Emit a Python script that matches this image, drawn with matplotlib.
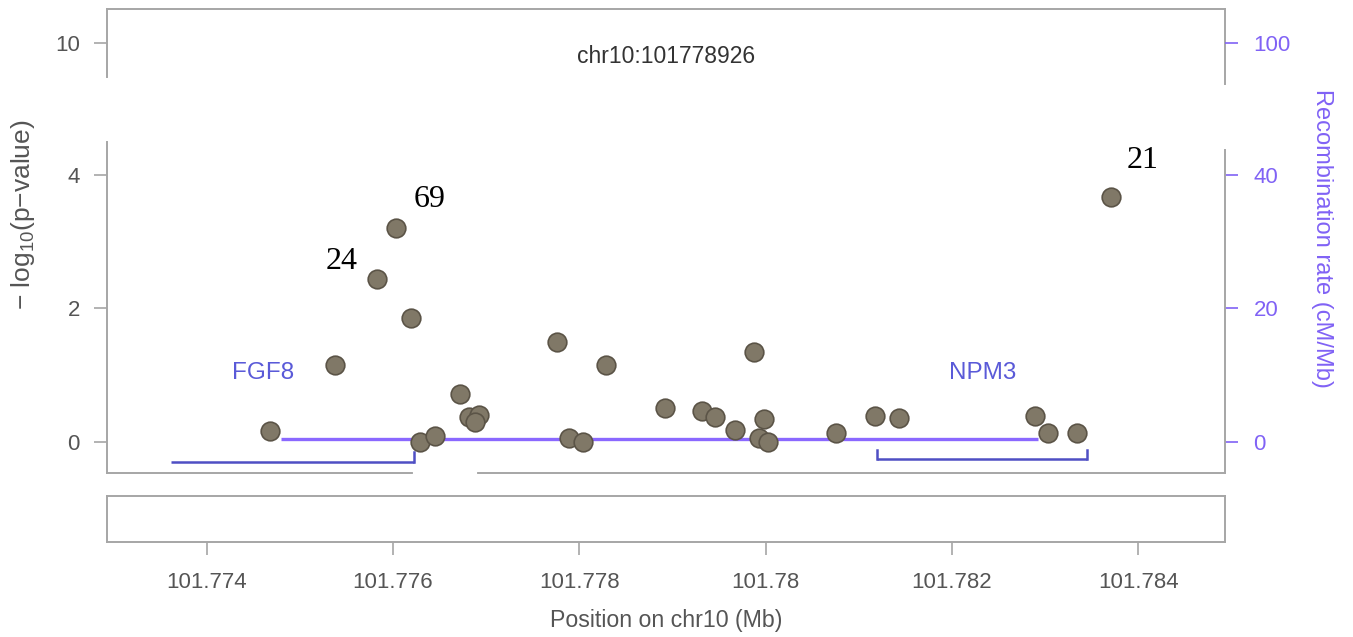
import matplotlib
matplotlib.use('Agg')
import matplotlib.pyplot as plt
import numpy as np

plt.rcParams['font.family'] = ['Liberation Sans', 'DejaVu Sans']
plt.rcParams['mathtext.fontset'] = 'custom'
plt.rcParams['mathtext.rm'] = 'Liberation Sans'
plt.rcParams['mathtext.it'] = 'Liberation Sans:italic'

# ---------------- data ----------------
position_mb = [101.77468, 101.77538, 101.77583, 101.77603, 101.77619, 101.77629,
               101.77645, 101.77672, 101.77682, 101.77692, 101.77688,
               101.77776, 101.77789, 101.77804, 101.77829, 101.77892, 101.77932,
               101.77946, 101.77967, 101.77987, 101.77998, 101.77993, 101.78003,
               101.78076, 101.78117, 101.78143,
               101.78289, 101.78303, 101.78334, 101.78371]
neg_log10_p = [0.165, 1.15, 2.44, 3.20, 1.85, 0.0,
               0.09, 0.71, 0.375, 0.396, 0.295,
               1.49, 0.05, 0.0, 1.146, 0.51, 0.465,
               0.366, 0.175, 1.35, 0.34, 0.06, 0.0,
               0.135, 0.385, 0.351,
               0.39, 0.135, 0.135, 3.666]

label_index = [2, 3, 29]
label_text = ['24', '69', '21']

recomb_pos = [101.77480, 101.78292]
recomb_rate = [0.4, 0.4]

gene_names = ['FGF8', 'NPM3']
gene_start = [101.77362, 101.78119]
gene_end = [101.77623, 101.78345]
gene_label_x = [101.7746, 101.78233]

lead_snp = 'chr10:101778926'
lead_pos = 101.778926

x_ticks = [101.774, 101.776, 101.778, 101.780, 101.782, 101.784]
x_tick_labels = ['101.774', '101.776', '101.778', '101.78', '101.782', '101.784']
p_ticks_main = [0, 2, 4]
p_ticks_top = [10]
rate_ticks_main = [0, 20, 40]
rate_ticks_top = [100]

# ---------------- style ----------------
W, H = 1353, 637
GRAY_TXT = '#555555'
SPINE = '#a6a6a6'
PURPLE = '#8062f5'
RLINE = '#8a68ff'
GENE_C = '#4f4fc4'
GENE_T = '#5a5ad8'
PT_FACE = '#807867'
PT_EDGE = '#5b5447'

XLIM = (101.77293, 101.78493)

fig = plt.figure(figsize=(W / 100, H / 100), dpi=100)


def frac(left, top, right, bottom):
    return [left / W, 1 - bottom / H, (right - left) / W, (bottom - top) / H]


ax_top = fig.add_axes(frac(107, 9, 1225, 143))
ax = fig.add_axes(frac(107, 142, 1225, 473))
ax_gene = fig.add_axes(frac(107, 496, 1225, 542))

for a in (ax_top, ax, ax_gene):
    a.set_xlim(*XLIM)
    for s in a.spines.values():
        s.set_color(SPINE)
        s.set_linewidth(1.4)

tick_kw = dict(length=9.5, width=1.2, labelsize=16, pad=10)

# ---- top strip ----
ax_top.set_ylim(8.496, 10.505)
ax_top.spines['bottom'].set_visible(False)
ax_top.spines['left'].set_bounds(9.486, 10.505)
ax_top.spines['right'].set_bounds(9.38, 10.505)
ax_top.set_xticks([])
ax_top.set_yticks(p_ticks_top)
ax_top.tick_params(axis='y', colors=SPINE, labelcolor=GRAY_TXT, **tick_kw)
ax_top.text(lead_pos, 9.80, lead_snp, ha='center', va='center',
            fontsize=16.5, color='#333333')
ax_top_r = ax_top.twinx()
ax_top_r.set_ylim(84.96, 105.05)
for s in ax_top_r.spines.values():
    s.set_visible(False)
ax_top_r.set_yticks(rate_ticks_top)
ax_top_r.tick_params(axis='y', colors=PURPLE, labelcolor=PURPLE,
                     length=9.5, width=1.2, labelsize=16, pad=11)

# ---- main panel ----
ax.set_ylim(-0.47, 4.495)
ax.spines['top'].set_visible(False)
ax.spines['right'].set_bounds(-0.47, 4.375)
ax.set_xticks([])
ax.set_yticks(p_ticks_main)
ax.tick_params(axis='y', colors=SPINE, labelcolor=GRAY_TXT, **tick_kw)

ax_r = ax.twinx()
ax_r.set_ylim(-4.7, 44.95)
for s in ax_r.spines.values():
    s.set_visible(False)
ax_r.set_yticks(rate_ticks_main)
ax_r.tick_params(axis='y', colors=PURPLE, labelcolor=PURPLE,
                 length=9.5, width=1.2, labelsize=16, pad=11)
ax_r.plot(recomb_pos, recomb_rate, color=RLINE, lw=2.4, solid_capstyle='butt')

ax.set_zorder(ax_r.get_zorder() + 1)
ax.patch.set_visible(False)

# small break in the bottom frame line (as in the source image)
ax.axhline(-0.47, xmin=(415 - 107) / 1118, xmax=(475 - 107) / 1118,
           color='white', lw=3, zorder=6, clip_on=False)

ax.scatter(position_mb, neg_log10_p, s=180, facecolor=PT_FACE,
           edgecolor=PT_EDGE, linewidth=1.2, zorder=3)

offsets = {'24': (-25.6, 12.5), '69': (24.3, 21.1), '21': (22.3, 26.4)}
for i, t in zip(label_index, label_text):
    ax.annotate(t, (position_mb[i], neg_log10_p[i]), xytext=offsets[t],
                textcoords='offset points', ha='center', va='center',
                fontsize=23, family=['Liberation Serif', 'DejaVu Serif'],
                color='black', zorder=4)

# genes
gene_y = [-0.30, -0.26]
ends = ['right', 'both']
for name, s0, e0, lx, gy, en in zip(gene_names, gene_start, gene_end,
                                      gene_label_x, gene_y, ends):
    ax.plot([s0, e0], [gy, gy], color=GENE_C, lw=1.8, solid_capstyle='butt', zorder=2)
    if en in ('right', 'both'):
        ax.plot([e0, e0], [gy, gy + 0.14], color=GENE_C, lw=1.8, zorder=2)
    if en == 'both':
        ax.plot([s0, s0], [gy, gy + 0.14], color=GENE_C, lw=1.8, zorder=2)
    ax.text(lx, 1.03, name, ha='center', va='center', fontsize=17.5,
            color=GENE_T, zorder=4)

# ---- gene/axis box ----
ax_gene.set_yticks([])
ax_gene.set_xticks(x_ticks)
ax_gene.set_xticklabels(x_tick_labels)
ax_gene.tick_params(axis='x', colors=SPINE, labelcolor=GRAY_TXT,
                    length=9.5, width=1.2, labelsize=16, pad=12)

# ---- axis titles ----
fig.text(23 / W, 1 - 215 / H, r'$-$ log$_{10}$(p$-$value)', rotation=90,
         ha='center', va='center', fontsize=19, color=GRAY_TXT)
fig.text(1322 / W, 1 - 238 / H, 'Recombination rate (cM/Mb)', rotation=270,
         ha='center', va='center', fontsize=17, color=PURPLE)
fig.text(666 / W, 1 - 620 / H, 'Position on chr10 (Mb)', ha='center',
         va='center', fontsize=16.7, color=GRAY_TXT)

fig.savefig('out.png', dpi=100)
